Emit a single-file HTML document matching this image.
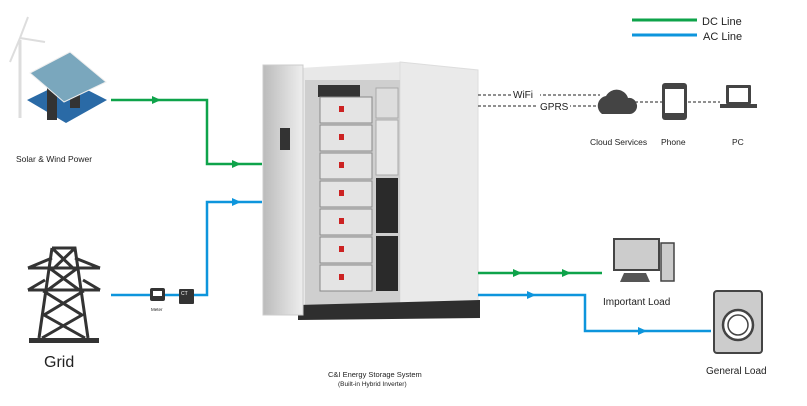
<!DOCTYPE html>
<html><head><meta charset="utf-8"><style>
body{margin:0;background:#fff;width:807px;height:401px;overflow:hidden}
svg text{font-family:"Liberation Sans",sans-serif;fill:#222}
</style></head><body>
<svg width="807" height="401" viewBox="0 0 807 401" xmlns="http://www.w3.org/2000/svg">
<defs>
<marker id="ag" markerWidth="8" markerHeight="8" refX="4" refY="4" orient="auto"><path d="M0,0 L8,4 L0,8z" fill="#0ea34a"/></marker>
<linearGradient id="door" x1="0" x2="1"><stop offset="0" stop-color="#bbb"/><stop offset="1" stop-color="#eee"/></linearGradient>
</defs>
<!-- legend -->
<line x1="632" y1="20" x2="697" y2="20" stroke="#0ea34a" stroke-width="3"/>
<line x1="632" y1="35" x2="697" y2="35" stroke="#0d95dc" stroke-width="3"/>
<text x="702" y="25" font-size="11">DC Line</text>
<text x="703" y="40" font-size="11">AC Line</text>

<!-- wind turbine -->
<line x1="20" y1="40" x2="20" y2="118" stroke="#ddd" stroke-width="3"/>
<path d="M20,38 L28,17 M20,38 L10,62 M20,38 L45,42" stroke="#ddd" stroke-width="2"/>
<!-- solar -->
<path d="M27,100 L68,80 L107,100 L66,123z" fill="#2a6aa6"/>
<rect x="47" y="85" width="10" height="35" fill="#333"/>
<rect x="70" y="90" width="10" height="18" fill="#333"/>
<path d="M30,73 L70,52 L106,82 L64,102z" fill="#7aa7bd" stroke="#eee"/>
<text x="16" y="162" font-size="8.5">Solar &amp; Wind Power</text>

<!-- grid tower -->
<g stroke="#333" stroke-width="3" fill="none">
<path d="M52,248 L75,248 L88,338 M52,248 L39,338 M52,248 L75,270 L45,292 L82,315 L42,338 M75,248 L52,270 L82,292 L44,315 L85,338"/>
<path d="M28,268 L100,268 M28,268 L52,258 M100,268 L75,258 M28,290 L100,290 M28,290 L45,280 M100,290 L83,280"/>
</g>
<rect x="29" y="338" width="70" height="5" fill="#333"/>
<text x="44" y="367" font-size="16">Grid</text>

<!-- left lines -->
<polyline points="111,100 207,100 207,164 262,164" fill="none" stroke="#0ea34a" stroke-width="2.5"/>
<path d="M152,96 L161,100 L152,104z M232,160 L241,164 L232,168z" fill="#0ea34a"/>
<polyline points="111,295 207,295 207,202 262,202" fill="none" stroke="#0d95dc" stroke-width="2.5"/>
<path d="M232,198 L241,202 L232,206z" fill="#0d95dc"/>
<rect x="150" y="288" width="15" height="13" rx="2" fill="#333"/><rect x="153" y="291" width="9" height="5" fill="#fff"/>
<text x="151" y="311" font-size="4.5">Meter</text>
<rect x="179" y="289" width="15" height="15" rx="1" fill="#333"/><text x="181" y="295" font-size="5" fill="#fff" style="fill:#fff">CT</text>

<!-- cabinet -->
<path d="M300,68 L400,62 L478,70 L478,305 L300,305z" fill="#e8e8e8"/>
<path d="M400,62 L478,70 L478,305 L400,305z" fill="#eaeaea" stroke="#ddd"/>
<rect x="305" y="80" width="95" height="225" fill="#cfcfcf"/>
<rect x="318" y="85" width="42" height="12" fill="#333"/>
<g id="bat"></g>
<rect x="320" y="97" width="52" height="26" fill="#e4e4e4" stroke="#888"/>
<rect x="320" y="125" width="52" height="26" fill="#e4e4e4" stroke="#888"/>
<rect x="320" y="153" width="52" height="26" fill="#e4e4e4" stroke="#888"/>
<rect x="320" y="181" width="52" height="26" fill="#e4e4e4" stroke="#888"/>
<rect x="320" y="209" width="52" height="26" fill="#e4e4e4" stroke="#888"/>
<rect x="320" y="237" width="52" height="26" fill="#e4e4e4" stroke="#888"/>
<rect x="320" y="265" width="52" height="26" fill="#e4e4e4" stroke="#888"/>
<g fill="#c22">
<rect x="339" y="106" width="5" height="6"/><rect x="339" y="134" width="5" height="6"/><rect x="339" y="162" width="5" height="6"/><rect x="339" y="190" width="5" height="6"/><rect x="339" y="218" width="5" height="6"/><rect x="339" y="246" width="5" height="6"/><rect x="339" y="274" width="5" height="6"/></g>
<rect x="376" y="88" width="22" height="30" fill="#ddd" stroke="#aaa"/>
<rect x="376" y="120" width="22" height="55" fill="#e8e8e8" stroke="#aaa"/>
<rect x="376" y="178" width="22" height="55" fill="#2a2a2a"/>
<rect x="376" y="236" width="22" height="55" fill="#2a2a2a"/>
<path d="M298,305 L480,300 L480,318 L298,320z" fill="#2e2e2e"/>
<rect x="263" y="65" width="40" height="250" fill="url(#door)" stroke="#ccc"/>
<rect x="280" y="128" width="10" height="22" fill="#333"/>
<text x="328" y="377" font-size="7.5">C&amp;I Energy Storage System</text>
<text x="338" y="386" font-size="6.5">(Built-in Hybrid Inverter)</text>

<!-- comms -->
<g stroke="#222" stroke-width="1" stroke-dasharray="3,2">
<line x1="478" y1="95" x2="600" y2="95"/><line x1="478" y1="106" x2="600" y2="106"/>
<line x1="635" y1="102" x2="662" y2="102"/><line x1="688" y1="102" x2="720" y2="102"/>
</g>
<rect x="512" y="88" width="28" height="12" fill="#fff"/><text x="513" y="98" font-size="10">WiFi</text>
<rect x="538" y="100" width="32" height="12" fill="#fff"/><text x="540" y="110" font-size="10">GPRS</text>
<path d="M602,114 a10,10 0 0 1 4,-18 a12,12 0 0 1 22,2 a8,8 0 0 1 2,16z" fill="#444"/>
<rect x="662" y="83" width="25" height="37" rx="3" fill="#444"/><rect x="665" y="89" width="19" height="24" fill="#fff"/>
<rect x="726" y="85" width="25" height="19" rx="1" fill="#444"/><rect x="729" y="88" width="19" height="14" fill="#fff"/><rect x="720" y="104" width="37" height="4" fill="#444"/>
<text x="590" y="145" font-size="8.5">Cloud Services</text>
<text x="661" y="145" font-size="8.5">Phone</text>
<text x="732" y="145" font-size="8.5">PC</text>

<!-- right lines -->
<line x1="478" y1="273" x2="602" y2="273" stroke="#0ea34a" stroke-width="2.5"/>
<path d="M513,269 L522,273 L513,277z M562,269 L571,273 L562,277z" fill="#0ea34a"/>
<polyline points="478,295 585,295 585,331 711,331" fill="none" stroke="#0d95dc" stroke-width="2.5"/>
<path d="M527,291 L536,295 L527,299z M638,327 L647,331 L638,335z" fill="#0d95dc"/>
<!-- computer -->
<rect x="614" y="239" width="45" height="31" fill="#ccc" stroke="#444" stroke-width="2"/>
<path d="M620,282 L650,282 L646,273 L624,273z" fill="#555"/>
<rect x="661" y="243" width="13" height="38" fill="#ccc" stroke="#444" stroke-width="1.5"/>
<text x="603" y="305" font-size="10">Important Load</text>
<!-- washer -->
<rect x="714" y="291" width="48" height="62" rx="3" fill="#ccc" stroke="#444" stroke-width="2"/>
<circle cx="738" cy="325" r="15" fill="#fff" stroke="#444" stroke-width="2.5"/>
<circle cx="738" cy="325" r="10" fill="none" stroke="#444" stroke-width="1.5"/>
<text x="706" y="374" font-size="10">General Load</text>
</svg>
</body></html>
